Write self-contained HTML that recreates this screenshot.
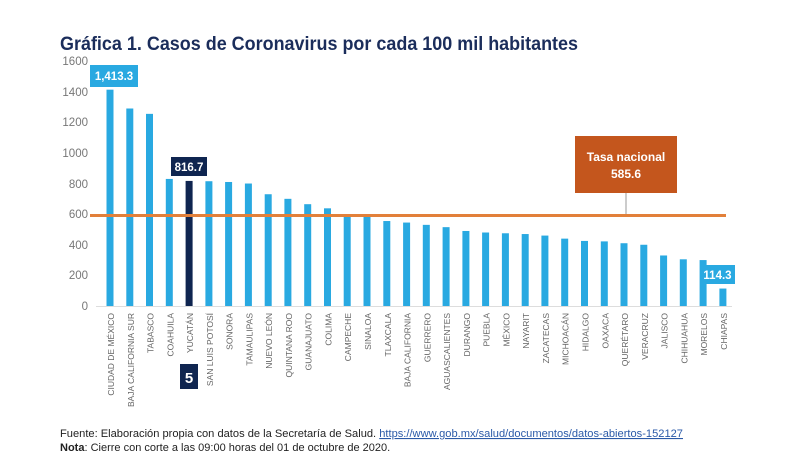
<!DOCTYPE html>
<html><head><meta charset="utf-8"><style>
body{margin:0;background:#fff;}
svg{display:block;font-family:"Liberation Sans",sans-serif;}
</style></head><body>
<svg width="800" height="475" viewBox="0 0 800 475" xmlns="http://www.w3.org/2000/svg">
<text x="60" y="50" font-size="19" font-weight="bold" fill="#1b2d5b" textLength="518" lengthAdjust="spacingAndGlyphs">Gráfica 1. Casos de Coronavirus por cada 100 mil habitantes</text>
<g font-size="11.5" fill="#777" text-anchor="end">
<text x="88" y="310">0</text><text x="88" y="279">200</text><text x="88" y="249">400</text><text x="88" y="218">600</text><text x="88" y="188">800</text><text x="88" y="157">1000</text><text x="88" y="126">1200</text><text x="88" y="96">1400</text><text x="88" y="65">1600</text>
</g>
<line x1="96" y1="306.5" x2="732" y2="306.5" stroke="#ddd" stroke-width="1"/>
<g transform="translate(0,306) scale(1,-0.1531)" fill="#29a9e1">
<rect x="106.5" y="0" width="7" height="1413"/>
<rect x="126.3" y="0" width="7" height="1290"/>
<rect x="146" y="0" width="7" height="1255"/>
<rect x="165.8" y="0" width="7" height="830"/>
<rect x="185.6" y="0" width="7" height="817" fill="#0f2550"/>
<rect x="205.4" y="0" width="7" height="815"/>
<rect x="225.1" y="0" width="7" height="810"/>
<rect x="244.9" y="0" width="7" height="800"/>
<rect x="264.7" y="0" width="7" height="730"/>
<rect x="284.4" y="0" width="7" height="700"/>
<rect x="304.2" y="0" width="7" height="665"/>
<rect x="324" y="0" width="7" height="638"/>
<rect x="343.7" y="0" width="7" height="590"/>
<rect x="363.5" y="0" width="7" height="585"/>
<rect x="383.3" y="0" width="7" height="555"/>
<rect x="403.1" y="0" width="7" height="545"/>
<rect x="422.8" y="0" width="7" height="530"/>
<rect x="442.6" y="0" width="7" height="515"/>
<rect x="462.4" y="0" width="7" height="490"/>
<rect x="482.1" y="0" width="7" height="480"/>
<rect x="501.9" y="0" width="7" height="475"/>
<rect x="521.7" y="0" width="7" height="470"/>
<rect x="541.4" y="0" width="7" height="460"/>
<rect x="561.2" y="0" width="7" height="440"/>
<rect x="581" y="0" width="7" height="425"/>
<rect x="600.8" y="0" width="7" height="422"/>
<rect x="620.5" y="0" width="7" height="410"/>
<rect x="640.3" y="0" width="7" height="400"/>
<rect x="660.1" y="0" width="7" height="330"/>
<rect x="679.8" y="0" width="7" height="305"/>
<rect x="699.6" y="0" width="7" height="300"/>
<rect x="719.4" y="0" width="7" height="114"/>
</g>
<line x1="90" y1="215.5" x2="726" y2="215.5" stroke="#e2803a" stroke-width="3"/>
<line x1="626" y1="193" x2="626" y2="214" stroke="#999" stroke-width="1"/>
<rect x="575" y="136" width="102" height="57" fill="#c4561d"/>
<text x="626" y="161" font-size="12" font-weight="bold" fill="#fff" text-anchor="middle">Tasa nacional</text>
<text x="626" y="178" font-size="12" font-weight="bold" fill="#fff" text-anchor="middle">585.6</text>
<rect x="90" y="65" width="48" height="22" fill="#29a9e1"/>
<text x="114" y="80" font-size="11.5" font-weight="bold" fill="#fff" text-anchor="middle">1,413.3</text>
<rect x="171" y="157" width="36" height="19" fill="#0f2550"/>
<text x="189" y="171" font-size="11.5" font-weight="bold" fill="#fff" text-anchor="middle">816.7</text>
<rect x="700" y="265" width="35" height="19" fill="#29a9e1"/>
<text x="717.5" y="279" font-size="11.5" font-weight="bold" fill="#fff" text-anchor="middle">114.3</text>
<rect x="180" y="364" width="18" height="25" fill="#0f2550"/>
<text x="189" y="383" font-size="15" font-weight="bold" fill="#fff" text-anchor="middle">5</text>
<g font-size="8.5" fill="#666" text-anchor="end">
<text transform="translate(114,313) rotate(-90)">CIUDAD DE MÉXICO</text>
<text transform="translate(133.8,313) rotate(-90)">BAJA CALIFORNIA SUR</text>
<text transform="translate(153.5,313) rotate(-90)">TABASCO</text>
<text transform="translate(173.3,313) rotate(-90)">COAHUILA</text>
<text transform="translate(193.1,313) rotate(-90)">YUCATÁN</text>
<text transform="translate(212.9,313) rotate(-90)">SAN LUIS POTOSÍ</text>
<text transform="translate(232.6,313) rotate(-90)">SONORA</text>
<text transform="translate(252.4,313) rotate(-90)">TAMAULIPAS</text>
<text transform="translate(272.2,313) rotate(-90)">NUEVO LEÓN</text>
<text transform="translate(291.9,313) rotate(-90)">QUINTANA ROO</text>
<text transform="translate(311.7,313) rotate(-90)">GUANAJUATO</text>
<text transform="translate(331.5,313) rotate(-90)">COLIMA</text>
<text transform="translate(351.2,313) rotate(-90)">CAMPECHE</text>
<text transform="translate(371,313) rotate(-90)">SINALOA</text>
<text transform="translate(390.8,313) rotate(-90)">TLAXCALA</text>
<text transform="translate(410.6,313) rotate(-90)">BAJA CALIFORNIA</text>
<text transform="translate(430.3,313) rotate(-90)">GUERRERO</text>
<text transform="translate(450.1,313) rotate(-90)">AGUASCALIENTES</text>
<text transform="translate(469.9,313) rotate(-90)">DURANGO</text>
<text transform="translate(489.6,313) rotate(-90)">PUEBLA</text>
<text transform="translate(509.4,313) rotate(-90)">MÉXICO</text>
<text transform="translate(529.2,313) rotate(-90)">NAYARIT</text>
<text transform="translate(548.9,313) rotate(-90)">ZACATECAS</text>
<text transform="translate(568.7,313) rotate(-90)">MICHOACÁN</text>
<text transform="translate(588.5,313) rotate(-90)">HIDALGO</text>
<text transform="translate(608.3,313) rotate(-90)">OAXACA</text>
<text transform="translate(628,313) rotate(-90)">QUERÉTARO</text>
<text transform="translate(647.8,313) rotate(-90)">VERACRUZ</text>
<text transform="translate(667.6,313) rotate(-90)">JALISCO</text>
<text transform="translate(687.3,313) rotate(-90)">CHIHUAHUA</text>
<text transform="translate(707.1,313) rotate(-90)">MORELOS</text>
<text transform="translate(726.9,313) rotate(-90)">CHIAPAS</text>
</g>
<text x="60" y="437" font-size="11" fill="#222" textLength="623" lengthAdjust="spacingAndGlyphs">Fuente: Elaboración propia con datos de la Secretaría de Salud. <tspan fill="#2b5aa8" text-decoration="underline">https://www.gob.mx/salud/documentos/datos-abiertos-152127</tspan></text>
<text x="60" y="451" font-size="11" fill="#222"><tspan font-weight="bold">Nota</tspan>: Cierre con corte a las 09:00 horas del 01 de octubre de 2020.</text>
</svg>
</body></html>
